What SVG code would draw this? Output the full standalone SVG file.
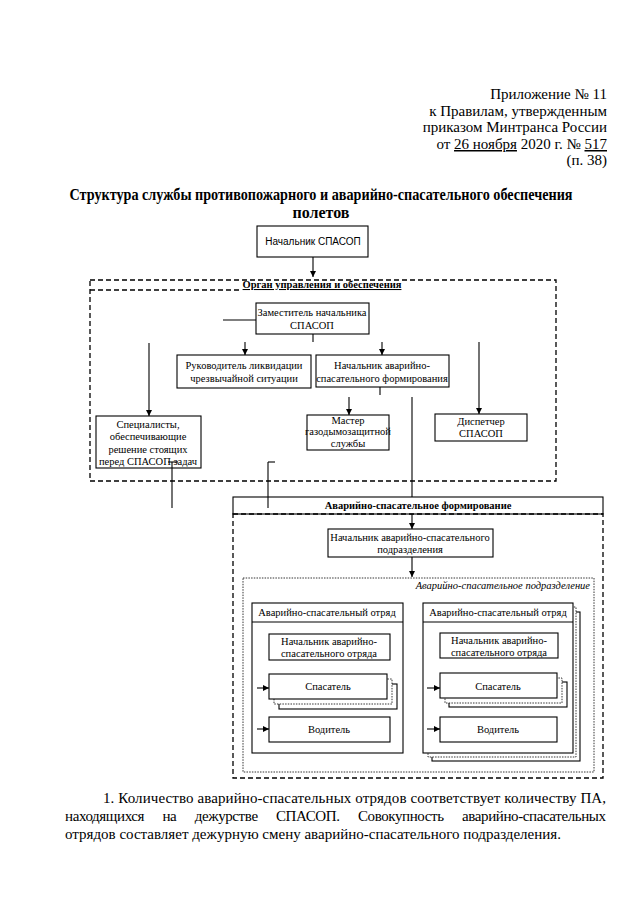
<svg xmlns="http://www.w3.org/2000/svg" width="640" height="905" viewBox="0 0 640 905">
<defs>
<style>
.bg{fill:#fff}
.box{fill:#fff;stroke:#000;stroke-width:1.1}
.dash{fill:none;stroke:#000;stroke-width:1.3;stroke-dasharray:5,3}
.dot{fill:none;stroke:#000;stroke-width:0.8;stroke-dasharray:1.5,1.2}
.ln{stroke:#000;stroke-width:1.1;fill:none}
.ar{stroke:#000;stroke-width:1.1;fill:none;marker-end:url(#ah)}
.t{font-family:"Liberation Serif","Times New Roman",serif;font-size:10.5px;fill:#000;text-anchor:middle}
.ts{font-family:"Liberation Sans",Arial,sans-serif;font-size:10px;fill:#000;text-anchor:middle}
.doc{font-family:"Liberation Serif","Times New Roman",serif;font-size:15px;fill:#000}
.hd{text-anchor:end}
.ttl{font-family:"Liberation Serif","Times New Roman",serif;font-size:16px;font-weight:bold;fill:#000;text-anchor:middle}
.b{font-weight:bold}
</style>
<marker id="ah" viewBox="0 0 6 6" refX="6" refY="3" markerWidth="6" markerHeight="6" markerUnits="userSpaceOnUse" orient="auto">
<path d="M0,0 L6,3 L0,6 z" fill="#000"/>
</marker>
</defs>
<rect class="bg" x="0" y="0" width="640" height="905"/>

<g id="header">
<text class="doc hd" x="607" y="99">Приложение № 11</text>
<text class="doc hd" x="607" y="116">к Правилам, утвержденным</text>
<text class="doc hd" x="607" y="132">приказом Минтранса России</text>
<text class="doc hd" x="607" y="149">от <tspan text-decoration="underline">26 ноября</tspan> 2020 г. № <tspan text-decoration="underline">517</tspan></text>
<text class="doc hd" x="607" y="165">(п. 38)</text>
</g>

<g id="title">
<text class="ttl" x="321" y="200" textLength="503" lengthAdjust="spacingAndGlyphs">Структура службы противопожарного и аварийно-спасательного обеспечения</text>
<text class="ttl" x="321" y="218">полетов</text>
</g>

<g id="organ">
<rect class="dash" x="90" y="280" width="466" height="201"/>
<line class="dash" x1="90" y1="290" x2="240" y2="290"/>
<text class="t b" x="322" y="288" font-size="9.5" text-decoration="underline">Орган управления и обеспечения</text>
</g>

<g id="formation">
<rect class="box" x="233" y="497" width="370" height="17"/>
<text class="t b" x="418" y="509" font-size="10">Аварийно-спасательное формирование</text>
<rect class="dash" x="233" y="514" width="370" height="264"/>
</g>

<g id="subdivision">
<rect class="dot" x="243" y="578" width="351" height="194"/>
<text class="t" x="590" y="589" font-style="italic" style="text-anchor:end" font-size="10">Аварийно-спасательное подразделение</text>
</g>

<g id="n-head">
<rect class="box" x="257" y="226" width="111" height="31"/>
<text class="ts" x="313" y="245">Начальник СПАСОП</text>
</g>

<g id="n-deputy">
<rect class="box" x="256" y="303" width="113" height="31"/>
<text class="t" x="312" y="316" font-size="10">Заместитель начальника</text>
<text class="t" x="312" y="329" font-size="10">СПАСОП</text>
</g>

<g id="n-leader">
<rect class="box" x="177" y="355" width="134" height="33"/>
<text class="t" x="244" y="369">Руководитель ликвидации</text>
<text class="t" x="244" y="382">чрезвычайной ситуации</text>
</g>

<g id="n-formhead">
<rect class="box" x="316" y="355" width="133" height="32"/>
<text class="t" x="382" y="369" font-size="10">Начальник аварийно-</text>
<text class="t" x="382" y="382" font-size="10">спасательного формирования</text>
</g>

<g id="n-specialists">
<rect class="box" x="96" y="416" width="105" height="52"/>
<text class="t" x="148" y="428">Специалисты,</text>
<text class="t" x="148" y="440">обеспечивающие</text>
<text class="t" x="148" y="453">решение стоящих</text>
<text class="t" x="148" y="465">перед СПАСОП задач</text>
</g>

<g id="n-master">
<rect class="box" x="307" y="415" width="82" height="35"/>
<text class="t" x="348" y="424" font-size="9">Мастер</text>
<text class="t" x="348" y="435" font-size="9">газодымозащитной</text>
<text class="t" x="348" y="447" font-size="9">службы</text>
</g>

<g id="n-dispatcher">
<rect class="box" x="435" y="414" width="92" height="27"/>
<text class="t" x="481" y="425">Диспетчер</text>
<text class="t" x="481" y="437">СПАСОП</text>
</g>

<g id="n-subhead">
<rect class="box" x="328" y="529" width="165" height="28"/>
<text class="t" x="410" y="541" font-size="10">Начальник аварийно-спасательного</text>
<text class="t" x="410" y="553" font-size="10">подразделения</text>
</g>

<g id="n-squad1">
<rect class="box" x="252" y="603" width="151" height="150"/>
<line class="ln" x1="252" y1="622" x2="403" y2="622"/>
<text class="t" x="327" y="616">Аварийно-спасательный отряд</text>
<rect class="box" x="269" y="634" width="121" height="26"/>
<text class="t" x="329" y="645" font-size="10">Начальник аварийно-</text>
<text class="t" x="329" y="657" font-size="10">спасательного отряда</text>
<rect class="box" x="279" y="684" width="118" height="25"/>
<rect class="dot" x="274" y="679" width="118" height="25" style="fill:#fff"/>
<rect class="box" x="269" y="674" width="118" height="25"/>
<text class="t" x="328" y="690">Спасатель</text>
<rect class="box" x="269" y="717" width="121" height="25"/>
<text class="t" x="329" y="733">Водитель</text>
</g>

<g id="n-squad2">
<rect class="box" x="432" y="612" width="148" height="149"/>
<rect class="dot" x="428" y="607" width="148" height="150" style="fill:#fff"/>
<rect class="box" x="423" y="603" width="150" height="150"/>
<line class="ln" x1="423" y1="622" x2="573" y2="622"/>
<text class="t" x="498" y="616">Аварийно-спасательный отряд</text>
<rect class="box" x="440" y="633" width="118" height="25"/>
<text class="t" x="499" y="644" font-size="10">Начальник аварийно-</text>
<text class="t" x="499" y="656" font-size="10">спасательного отряда</text>
<rect class="box" x="449" y="682" width="118" height="25"/>
<rect class="dot" x="445" y="678" width="117" height="25" style="fill:#fff"/>
<rect class="box" x="440" y="673" width="117" height="25"/>
<text class="t" x="498" y="690">Спасатель</text>
<rect class="box" x="440" y="717" width="117" height="25"/>
<text class="t" x="498" y="733">Водитель</text>
</g>

<g id="connectors">
<line class="ar" x1="313" y1="257" x2="313" y2="277"/>
<line class="ln" x1="223" y1="320" x2="256" y2="320"/>
<line class="ln" x1="313" y1="334" x2="313" y2="342"/>
<line class="ar" x1="245" y1="342" x2="245" y2="355"/>
<line class="ar" x1="382" y1="342" x2="382" y2="355"/>
<line class="ar" x1="149" y1="343" x2="149" y2="416"/>
<line class="ar" x1="479" y1="342" x2="479" y2="414"/>
<line class="ln" x1="380" y1="387" x2="380" y2="395"/>
<line class="ar" x1="349" y1="397" x2="349" y2="415"/>
<line class="ln" x1="412" y1="397" x2="412" y2="497"/>
<line class="ln" x1="172" y1="462" x2="172" y2="508"/>
<line class="ln" x1="168" y1="462" x2="178" y2="462"/>
<line class="ln" x1="268" y1="462" x2="268" y2="508"/>
<line class="ln" x1="268" y1="462" x2="275" y2="462"/>
<line class="ar" x1="412" y1="514" x2="412" y2="529"/>
<line class="ar" x1="412" y1="557" x2="412" y2="577"/>
<line class="ar" x1="257" y1="688" x2="269" y2="688"/>
<line class="ar" x1="257" y1="729" x2="269" y2="729"/>
<line class="ar" x1="427" y1="688" x2="440" y2="688"/>
<line class="ar" x1="427" y1="729" x2="440" y2="729"/>
</g>

<g id="note">
<text class="doc" x="103" y="803" textLength="503" lengthAdjust="spacing">1. Количество аварийно-спасательных отрядов соответствует количеству ПА,</text>
<text class="doc" x="65" y="821" style="word-spacing:15px" textLength="541" lengthAdjust="spacing">находящихся на дежурстве СПАСОП. Совокупность аварийно-спасательных</text>
<text class="doc" x="65" y="839">отрядов составляет дежурную смену аварийно-спасательного подразделения.</text>
</g>
</svg>
